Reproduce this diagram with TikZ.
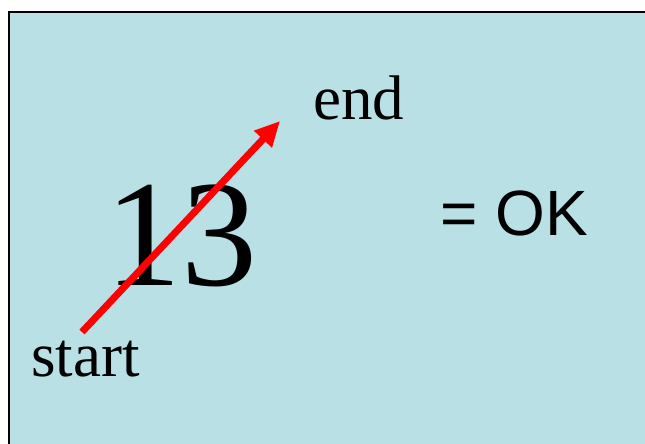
\documentclass[tikz,border=0pt]{standalone}
\usepackage{fontspec}
\setmainfont{Liberation Serif}
\newfontfamily\oksans{Liberation Sans}
\usetikzlibrary{arrows.meta}
\definecolor{slidebg}{RGB}{185,224,228}
\definecolor{arrred}{RGB}{255,0,0}

\begin{document}
\begin{tikzpicture}[
  x=1pt, y=-1pt,
  panel/.style = {draw=black, line width=2.5pt, fill=slidebg},
  lbl/.style   = {inner sep=0pt, anchor=base west, font=\fontsize{63}{63}\selectfont},
  big/.style   = {inner sep=0pt, anchor=base, font=\fontsize{152}{152}\selectfont},
  arr/.style   = {-{Triangle[length=25pt,width=23pt]}, line width=7pt, arrred},
]
\clip (0,0) rectangle (645,444);

\draw[panel] (9.2,12.2) rectangle (670,470);

\node[big] (num) at (181.5,285) {13};
\node[lbl] (endlbl) at (313,119) {end};
\node[lbl] (startlbl) at (31,376) {start};
\node[lbl, font=\oksans\fontsize{64}{64}\selectfont] (ok) at (440,235) {= OK};

\coordinate (tail) at (82,332);
\coordinate (tip) at (280,121);
\draw[arr] (tail) -- (tip);

\end{tikzpicture}
\end{document}
